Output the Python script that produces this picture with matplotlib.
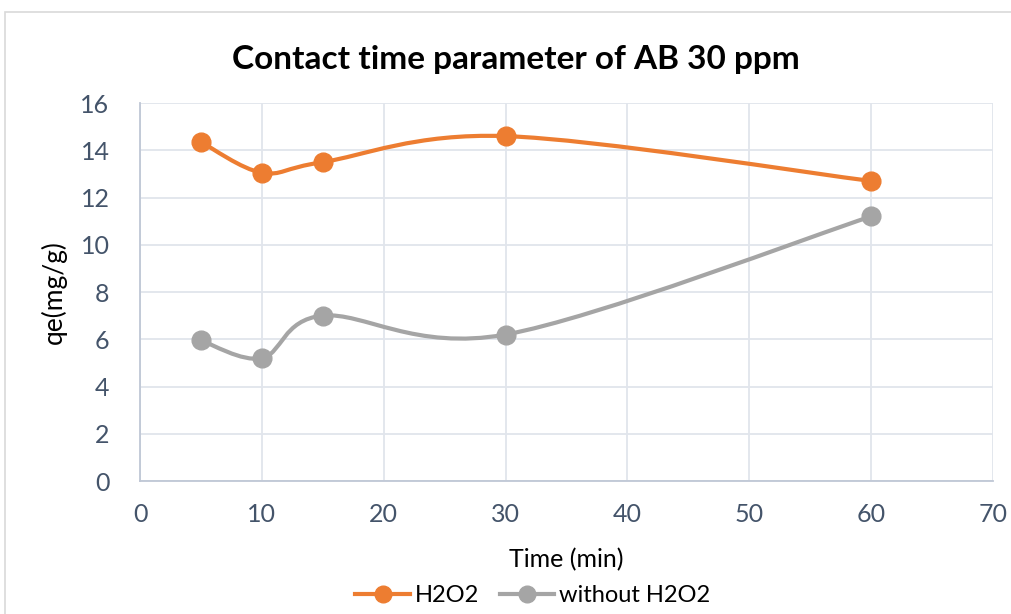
import numpy as np
import matplotlib.pyplot as plt
from matplotlib.path import Path
from matplotlib.patches import PathPatch, Rectangle
from matplotlib.lines import Line2D

time_min = [5, 10, 15, 30, 60]
qe_h2o2 = [14.35, 13.05, 13.5, 14.6, 12.7]
qe_without = [5.95, 5.2, 7.0, 6.2, 11.2]

ORANGE = '#ED7D31'
GRAY = '#A5A5A5'
TICK = '#44546A'

plt.rcParams['font.family'] = ['Lato', 'DejaVu Sans']


def smooth_path(x, y):
    # Excel-like smoothed line: Catmull-Rom turned into cubic Bezier segments
    pts = np.column_stack([x, y]).astype(float)
    n = len(pts)
    verts = [pts[0]]
    codes = [Path.MOVETO]
    for i in range(n - 1):
        p0 = pts[i - 1] if i > 0 else pts[i]
        p1 = pts[i]
        p2 = pts[i + 1]
        p3 = pts[i + 2] if i + 2 < n else pts[i + 1]
        c1 = p1 + (p2 - p0) / 6.0
        c2 = p2 - (p3 - p1) / 6.0
        verts += [c1, c2, p2]
        codes += [Path.CURVE4] * 3
    return Path(verts, codes)


fig = plt.figure(figsize=(10.11, 6.14), dpi=100)
ax = fig.add_axes([0.1385, 0.2166, 0.8437, 0.6156])

fig.patches.append(Rectangle((5 / 1011, -0.01), 1.02, 1 - 12 / 614 + 0.01,
                             transform=fig.transFigure, fill=False,
                             edgecolor='#D9D9D9', linewidth=1.2))

for ys, col in [(qe_h2o2, ORANGE), (qe_without, GRAY)]:
    ax.add_patch(PathPatch(smooth_path(time_min, ys), facecolor='none',
                           edgecolor=col, linewidth=3, capstyle='round', zorder=3))
    ax.plot(time_min, ys, linestyle='none', marker='o', markersize=13.5,
            color=col, markeredgecolor=col, zorder=4)

ax.set_xlim(0, 70)
ax.set_ylim(0, 16)
ax.set_xticks(range(0, 71, 10))
ax.set_yticks(range(0, 17, 2))
ax.grid(True, color='#E1E5EC', linewidth=1.3)
ax.set_axisbelow(True)
for s in ['top', 'right']:
    ax.spines[s].set_visible(False)
for s in ['left', 'bottom']:
    ax.spines[s].set_color('#BFC7D5')
    ax.spines[s].set_linewidth(1.3)
ax.tick_params(length=0, labelsize=18, labelcolor=TICK)
ax.tick_params(axis='x', pad=16)
ax.tick_params(axis='y', pad=22)

ax.set_xlabel('Time (min)', fontsize=18, labelpad=16)
ax.set_ylabel('qe(mg/g)', fontsize=19, labelpad=10)
fig.text(0.51, 1 - 60 / 614, 'Contact time parameter of AB 30 ppm',
         fontsize=24, fontweight='bold', ha='center', va='center')

handles = [Line2D([], [], color=ORANGE, linewidth=3, marker='o', markersize=12),
           Line2D([], [], color=GRAY, linewidth=3, marker='o', markersize=12)]
fig.legend(handles, ['H2O2', 'without H2O2'], loc='center',
           bbox_to_anchor=(0.527, 0.03), ncol=2, frameon=False, fontsize=17,
           handlelength=2.3, columnspacing=0.9, handletextpad=0.2)

fig.savefig('out.png', dpi=100)
